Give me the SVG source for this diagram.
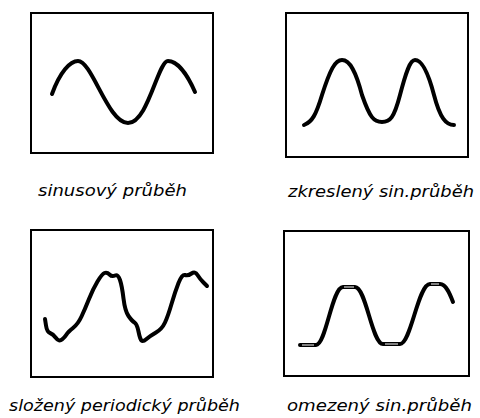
<svg xmlns="http://www.w3.org/2000/svg" width="480" height="418" viewBox="0 0 480 418">
<style>
.frame{fill:none;stroke:#000;stroke-width:2}
.wave{fill:none;stroke:#000;stroke-width:4;stroke-linecap:round;stroke-linejoin:round}
.hl{fill:none;stroke:#fff;stroke-width:1}
.lbl{font-family:"DejaVu Sans","Liberation Sans",sans-serif;font-style:italic;font-size:16px;fill:#000}
</style>
<rect width="480" height="418" fill="#fff"/>
<g id="panel1">
<rect class="frame" x="31" y="13" width="182" height="140"/>
<path class="wave" d="M52,94 C60,72 70,61 78,61 C92,61 108,123 128,123 C148,123 158,61 168,61 C178,61 188,76 195,92"/>
<text class="lbl" x="38" y="196" textLength="149" lengthAdjust="spacingAndGlyphs">sinusový průběh</text>
</g>
<g id="panel2">
<rect class="frame" x="286" y="13" width="182" height="144"/>
<path class="wave" d="M304,125 C312,122 316,115 322,95 C330,70 335,60 342,60 C350,60 356,72 362,95 C370,118 374,122 382,122 C390,122 394,118 400,95 C406,72 410,60 415,60 C422,60 428,72 434,95 C440,118 446,125 454,125"/>
<text class="lbl" x="288" y="197" textLength="186" lengthAdjust="spacingAndGlyphs">zkreslený sin.průběh</text>
</g>
<g id="panel3">
<rect class="frame" x="31" y="230" width="182" height="147"/>
<path class="wave" d="M45,319 L46,325.5 Q47,332 50,333 Q53,334 56,338 Q59,342 62,339.5 Q65,337 66.5,334.5 Q68,332 73,328 Q78,324 81.5,316.5 Q85,309 89,299 Q93,289 97.5,281.5 Q102,274 104.5,273 Q107,272 109.5,274.5 Q112,277 115,275.5 Q118,274 120,280 Q122,286 123.5,298.5 Q125,311 128.5,316 Q132,321 134.5,322.5 Q137,324 138.5,331.5 Q140,339 141.5,340.5 Q143,342 146.5,339 Q150,336 156,332.5 Q162,329 165,322.5 Q168,316 171.5,304 Q175,292 178.5,283 Q182,274 185,275 Q188,276 191.5,273.5 Q195,271 197.5,275 Q200,279 203.5,282.5 L207,286"/>
<text class="lbl" x="9" y="411" textLength="231" lengthAdjust="spacingAndGlyphs">složený periodický průběh</text>
</g>
<g id="panel4">
<rect class="frame" x="284" y="231" width="185" height="145"/>
<path class="wave" d="M300,345 L316,345 C326,345 332,287 343,287 L355,287 C366,287 372,344 383,344 L400,344 C411,344 418,284 430,284 L440,284 C446,284 450,294 453,302"/>
<path class="hl" d="M302,345 H314 M344,287 H354 M385,344 H398 M431,284 H439"/>
<text class="lbl" x="287" y="411" textLength="185" lengthAdjust="spacingAndGlyphs">omezený sin.průběh</text>
</g>
</svg>
